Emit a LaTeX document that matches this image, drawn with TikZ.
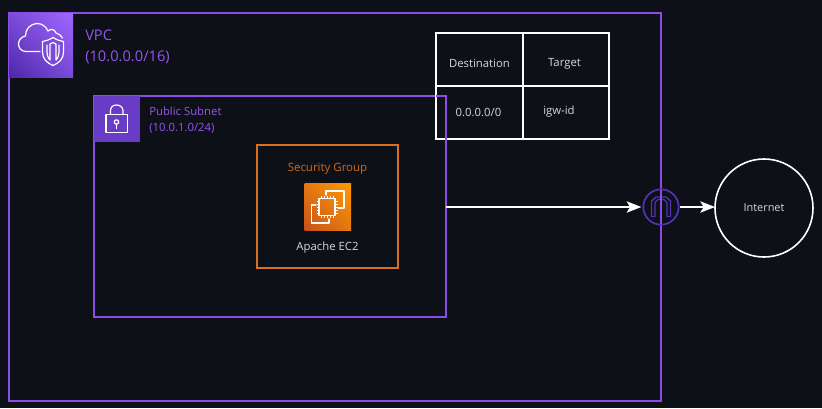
\documentclass[tikz,border=0pt]{standalone}
\usepackage{fontspec}
\setmainfont{Open Sans}
\usetikzlibrary{arrows.meta,shadings}
\definecolor{bg}{HTML}{0D1017}
\definecolor{vpcline}{HTML}{8A4DE6}
\definecolor{vpctext}{HTML}{9555F0}
\definecolor{subnetfill}{HTML}{693CC5}
\definecolor{sgline}{HTML}{D9701F}
\definecolor{sgtext}{HTML}{D06A1E}
\definecolor{igwc}{HTML}{5530B8}
\definecolor{soft}{HTML}{D8D8D8}
\definecolor{vpcA}{HTML}{4D27A8}
\definecolor{vpcB}{HTML}{7A4BD8}
\definecolor{vpcC}{HTML}{A166FF}
\definecolor{ecA}{HTML}{C8511B}
\definecolor{ecB}{HTML}{E47911}
\definecolor{ecC}{HTML}{FF9900}
\tikzset{
  px/.style={x=0.75pt,y=-0.75pt},
  box/.style={draw=#1,line width=1.5pt,rectangle,inner sep=0pt,outer sep=0pt,fill=none},
  cellbox/.style={draw=white,line width=1.4pt,rectangle,inner sep=0pt,outer sep=0pt,minimum height=39.75pt},
  label/.style={inner sep=0pt,text=soft,font=\fontsize{8.5}{10}\selectfont},
  purpletext/.style={inner sep=0pt,align=left,anchor=north west,text=vpctext},
  glyph/.style={draw=white,line width=0.9pt,line join=round,line cap=round,fill=none},
  flow/.style={draw=white,line width=1.1pt,-{Stealth[length=11pt,width=8.5pt,inset=2.5pt]}},
}
\begin{document}
\begin{tikzpicture}[px]
\useasboundingbox (0,0) rectangle (822,408);
\fill[bg] (0,0) rectangle (822,408);
% containers
\node[box=vpcline,minimum width=489pt,minimum height=291pt] (vpc) at (335,207) {};
\node[box=vpcline,minimum width=264pt,minimum height=165.75pt] (subnet) at (270,206.5) {};
\node[box=sgline,minimum width=105.75pt,minimum height=92.25pt] (sg) at (327.5,206.5) {};
% VPC icon
\shade[lower left=vpcA,lower right=vpcB,upper right=vpcC,upper left=vpcB] (9,13) rectangle (73,77);
\draw[glyph] (40,51.5) -- (26,51.5) .. controls (21,51.5) and (18.5,47.5) .. (18.5,44) .. controls (18.5,39.5) and (22,36.5) .. (25.5,36) .. controls (25,29) and (31,23.5) .. (37,23.5) .. controls (42,23.5) and (46,26.5) .. (48,31) .. controls (50,28.5) and (55,29) .. (56,33) .. controls (59,33.5) and (61,35.5) .. (62.5,38);
\draw[glyph,fill=vpcB] (53,37.5) .. controls (49,40) and (46,41) .. (42.5,41.5) -- (42.5,52) .. controls (42.5,59) and (47,63) .. (53,65.5) .. controls (59,63) and (63.5,59) .. (63.5,52) -- (63.5,41.5) .. controls (60,41) and (57,40) .. (53,37.5) -- cycle;
\draw[glyph] (47,45) -- (47,52) .. controls (47,56) and (49,59) .. (50,60) -- (50,44) (56,44) -- (56,60) .. controls (57,59) and (59,56) .. (59,52) -- (59,45) (50,44) .. controls (51,43.5) and (52,43) .. (53,42.5) .. controls (54,43) and (55,43.5) .. (56,44);
% subnet icon
\fill[subnetfill] (94,96) rectangle (140,142);
\draw[glyph] (106,132.5) rectangle (127.5,114.5);
\draw[glyph] (110.5,114.5) -- (110.5,111) .. controls (110.5,107) and (113,105) .. (116.5,105) .. controls (120,105) and (123,107) .. (123,111) -- (123,114.5);
\draw[glyph] (116.5,122) circle[radius=2.2];
\draw[glyph] (116.5,124.2) -- (116.5,128.5);
% EC2 icon
\shade[lower left=ecA,lower right=ecB,upper right=ecC,upper left=ecB] (304.5,183) rectangle (351,230);
\draw[glyph] (326,195) -- (326,191) -- (344,191) -- (344,208) -- (338,208);
\draw[glyph] (316,205) -- (311.5,205) -- (311.5,223) -- (329,223) -- (329,219);
\draw[glyph] (319,198.5) rectangle (335,215.5);
\foreach \t in {321.5,324.5,327.5,330.5,333.5}{
  \draw[draw=white,line width=0.6pt] (\t,196) -- (\t,198.5) (\t,215.5) -- (\t,218);
}
\foreach \t in {201,204,207,210,213}{
  \draw[draw=white,line width=0.6pt] (316.5,\t) -- (319,\t) (335,\t) -- (337.5,\t);
}
% texts
\node[purpletext,font=\fontsize{11}{15.4}\selectfont] (vpclabel) at (85,30) {VPC\\(10.0.0.0/16)};
\node[purpletext,font=\fontsize{8.5}{12}\selectfont] (subnetlabel) at (149,107) {Public Subnet\\(10.0.1.0/24)};
\node[inner sep=0pt,text=sgtext,font=\fontsize{8.6}{10}\selectfont] (sglabel) at (327.5,169) {Security Group};
\node[label] (ec2label) at (327.5,248) {Apache EC2};
% route table
\node[cellbox,minimum width=65pt] (c11) at (479.7,59.5) {};
\node[cellbox,minimum width=64.5pt] (c12) at (565.7,59.5) {};
\node[cellbox,minimum width=65pt] (c21) at (479.7,112.5) {};
\node[cellbox,minimum width=64.5pt] (c22) at (565.7,112.5) {};
\node[label] (t11) at (479.5,63) {Destination};
\node[label] (t12) at (564.5,63.5) {Target};
\node[label] (t21) at (478.5,112) {0.0.0.0/0};
\node[label] (t22) at (559,112) {igw-id};
\draw[vpcline,line width=1.5pt] (436,96) -- (446,96) -- (446,140);
% internet gateway and internet
\node[circle,draw=igwc,line width=1.3pt,minimum size=26.5pt,inner sep=0pt,outer sep=0pt] (igw) at (661,207) {};
\node[circle,draw=white,line width=1.2pt,minimum size=73.5pt,inner sep=0pt,outer sep=0pt,text=soft,font=\fontsize{8.2}{10}\selectfont] (net) at (764,208) {Internet};
\draw[igwc,line width=1pt,line join=round] (651.5,216.5) -- (651.5,201) -- (656,197) -- (666,197) -- (670.5,201) -- (670.5,216.5) -- (667,216.5) -- (667,202.5) -- (664,199.5) -- (658,199.5) -- (655,202.5) -- (655,216.5) -- cycle;
\draw[flow,shorten >=1.5pt] (subnet.east |- igw.west) -- (igw.west);
\draw[flow] (igw.east) ++(1.5,0) coordinate (igwout) (igwout) -- (net.west |- igwout);
\draw[vpcline,line width=1.5pt] (661,190) -- (661,224);
\end{tikzpicture}
\end{document}
